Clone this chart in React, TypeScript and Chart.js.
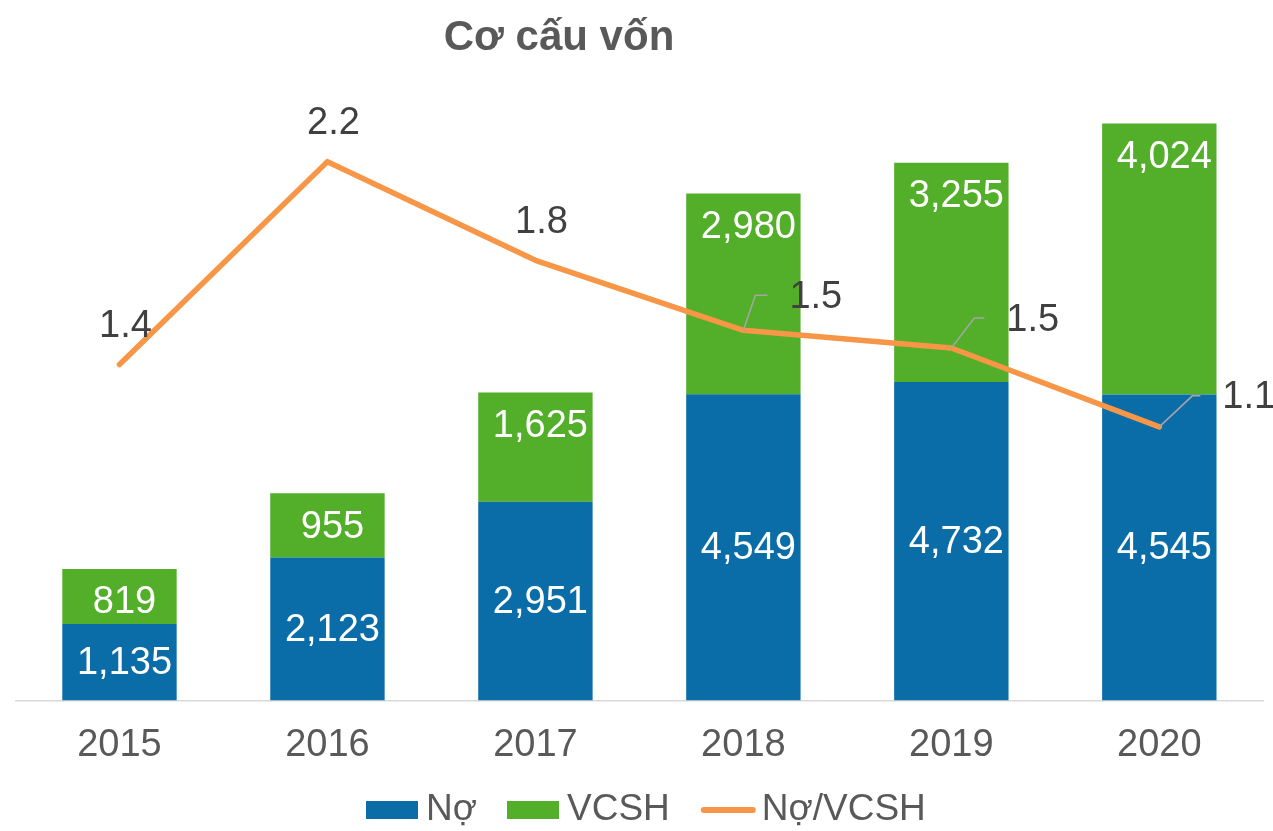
import React, { useEffect, useRef } from 'react';
import { Chart, registerables } from 'chart.js';

Chart.register(...registerables);

// ---- data ----
const years = ['2015', '2016', '2017', '2018', '2019', '2020'];
const debt = [1135, 2123, 2951, 4549, 4732, 4545];
const equity = [819, 955, 1625, 2980, 3255, 4024];
const ratio = [1.386, 2.223, 1.816, 1.527, 1.454, 1.129];

const TITLE = 'Cơ cấu vốn';
const LABEL_DEBT = 'Nợ';
const LABEL_EQUITY = 'VCSH';
const LABEL_RATIO = 'Nợ/VCSH';

// ---- styles ----
const BLUE = '#0B6DA8';
const GREEN = '#53AE2A';
const ORANGE = '#F79646';
const GREY_TEXT = '#595959';
const DARK_TEXT = '#404040';
const FONT = '"Liberation Sans", Arial, Helvetica, sans-serif';

// leader-line placement for ratio labels (null = label above the point)
const ratioLabelPlacement: (null | { ex: number; ey: number; h: number })[] = [
  null,
  null,
  null,
  { ex: 12, ey: -35, h: 12 },
  { ex: 23, ey: -30, h: 10 },
  { ex: 33, ey: -31, h: 8 },
];

const fmt = (v: number) => v.toLocaleString('en-US');

const titlePlugin = {
  id: 'customTitle',
  afterDraw(chart: any) {
    const ctx = chart.ctx;
    ctx.save();
    ctx.font = `bold 42px ${FONT}`;
    ctx.fillStyle = GREY_TEXT;
    ctx.textAlign = 'center';
    ctx.textBaseline = 'middle';
    ctx.fillText(TITLE, 559, 38);
    ctx.restore();
  },
};

const labelsPlugin = {
  id: 'customLabels',
  afterDatasetsDraw(chart: any) {
    const ctx = chart.ctx;
    ctx.save();
    ctx.font = `38px ${FONT}`;
    ctx.textAlign = 'center';
    ctx.textBaseline = 'middle';
    const mDebt = chart.getDatasetMeta(0);
    const mEq = chart.getDatasetMeta(1);
    const mR = chart.getDatasetMeta(2);
    ctx.fillStyle = '#FFFFFF';
    mDebt.data.forEach((bar: any, i: number) => {
      const p = bar.getProps(['x', 'y', 'base'], true);
      ctx.fillText(fmt(debt[i]), p.x + 5, (p.y + p.base) / 2 + 1);
    });
    mEq.data.forEach((bar: any, i: number) => {
      const p = bar.getProps(['x', 'y', 'base'], true);
      ctx.fillText(fmt(equity[i]), p.x + 5, p.y + 34);
    });
    mR.data.forEach((pt: any, i: number) => {
      const x = pt.x;
      const y = pt.y;
      const txt = ratio[i].toFixed(1);
      const pl = ratioLabelPlacement[i];
      ctx.fillStyle = DARK_TEXT;
      if (!pl) {
        ctx.textAlign = 'center';
        ctx.fillText(txt, x + 6, y - 38);
      } else {
        ctx.strokeStyle = '#A6A6A6';
        ctx.lineWidth = 1.5;
        ctx.beginPath();
        ctx.moveTo(x, y);
        ctx.lineTo(x + pl.ex, y + pl.ey);
        ctx.lineTo(x + pl.ex + pl.h, y + pl.ey);
        ctx.stroke();
        ctx.textAlign = 'left';
        ctx.fillText(txt, x + pl.ex + pl.h + 22, y + pl.ey + 2);
      }
    });
    ctx.restore();
  },
};

const legendPlugin = {
  id: 'customLegend',
  afterDraw(chart: any) {
    const ctx = chart.ctx;
    ctx.save();
    ctx.font = `37px ${FONT}`;
    ctx.textBaseline = 'middle';
    ctx.textAlign = 'left';
    const cy = 810;
    let x = 366;
    // Nợ
    ctx.fillStyle = BLUE;
    ctx.fillRect(x, 801, 52, 18);
    x += 60;
    ctx.fillStyle = GREY_TEXT;
    ctx.fillText(LABEL_DEBT, x, cy);
    x += ctx.measureText(LABEL_DEBT).width + 30;
    // VCSH
    ctx.fillStyle = GREEN;
    ctx.fillRect(x, 801, 52, 18);
    x += 60;
    ctx.fillStyle = GREY_TEXT;
    ctx.fillText(LABEL_EQUITY, x, cy);
    x += ctx.measureText(LABEL_EQUITY).width + 31;
    // Nợ/VCSH
    ctx.strokeStyle = ORANGE;
    ctx.lineWidth = 6;
    ctx.lineCap = 'round';
    ctx.beginPath();
    ctx.moveTo(x + 3, cy);
    ctx.lineTo(x + 52, cy);
    ctx.stroke();
    x += 61;
    ctx.fillStyle = GREY_TEXT;
    ctx.fillText(LABEL_RATIO, x, cy);
    ctx.restore();
  },
};

export default function App() {
  const canvasRef = useRef<HTMLCanvasElement | null>(null);

  useEffect(() => {
    document.body.style.margin = '0';
    const canvas = canvasRef.current;
    if (!canvas) return;
    const chart = new Chart(canvas, {
      type: 'bar',
      data: {
        labels: years,
        datasets: [
          {
            type: 'bar',
            label: LABEL_DEBT,
            data: debt,
            backgroundColor: BLUE,
            borderWidth: 0,
            barPercentage: 0.55,
            categoryPercentage: 1,
            stack: 'cap',
            yAxisID: 'y',
            order: 1,
          },
          {
            type: 'bar',
            label: LABEL_EQUITY,
            data: equity,
            backgroundColor: GREEN,
            borderWidth: 0,
            barPercentage: 0.55,
            categoryPercentage: 1,
            stack: 'cap',
            yAxisID: 'y',
            order: 1,
          },
          {
            type: 'line',
            label: LABEL_RATIO,
            data: ratio,
            borderColor: ORANGE,
            backgroundColor: ORANGE,
            borderWidth: 5.5,
            borderCapStyle: 'round',
            borderJoinStyle: 'round',
            pointRadius: 0,
            pointHoverRadius: 0,
            tension: 0,
            yAxisID: 'y1',
            order: 0,
          },
        ],
      } as any,
      options: {
        responsive: false,
        devicePixelRatio: 1,
        animation: false,
        events: [],
        layout: {
          padding: { top: 94.5, left: 15.5, right: 9.7, bottom: 70.5 },
        },
        plugins: {
          legend: { display: false },
          title: { display: false },
          tooltip: { enabled: false },
        },
        scales: {
          x: {
            type: 'category',
            stacked: true,
            grid: { display: false, drawTicks: false },
            border: { display: true, color: '#D9D9D9', width: 1.5 },
            ticks: {
              color: GREY_TEXT,
              font: { size: 38, family: FONT },
              padding: 22,
              autoSkip: false,
              maxRotation: 0,
            },
            afterFit: (scale: any) => {
              scale.height = 60;
            },
          },
          y: {
            type: 'linear',
            stacked: true,
            display: false,
            min: 0,
            max: 9000,
          },
          y1: {
            type: 'linear',
            display: false,
            min: 0,
            max: 2.5,
          },
        },
      } as any,
      plugins: [labelsPlugin, titlePlugin, legendPlugin],
    });
    return () => chart.destroy();
  }, []);

  return (
    <div style={{ width: 1273, height: 831, overflow: 'hidden', background: '#fff' }}>
      <canvas ref={canvasRef} width={1273} height={831} style={{ display: 'block' }} />
    </div>
  );
}
